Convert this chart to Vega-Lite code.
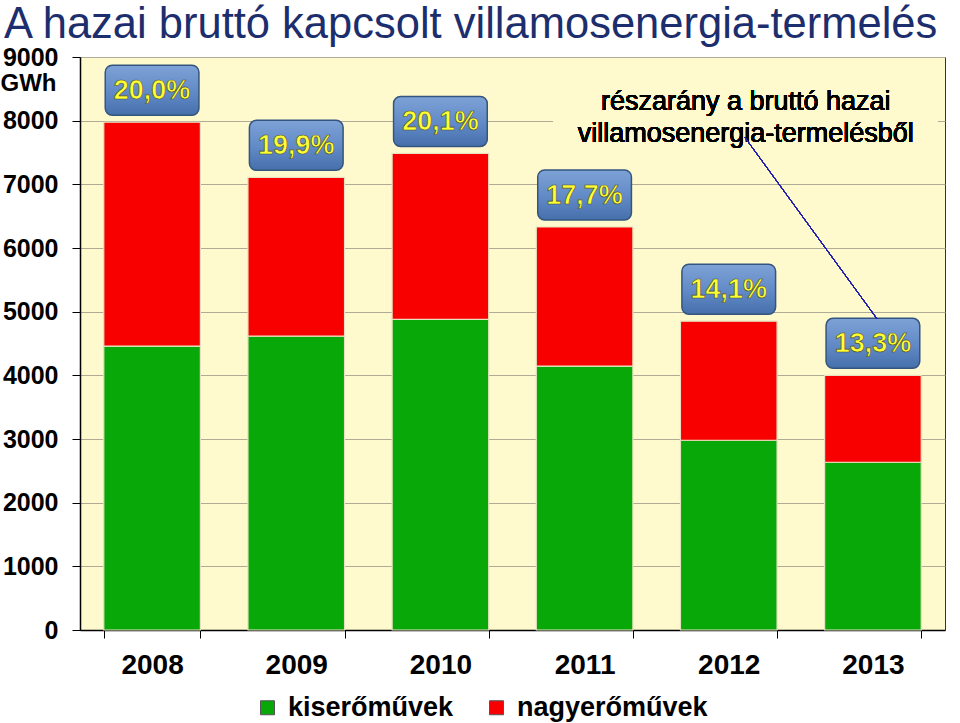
{
  "$schema": "https://vega.github.io/schema/vega-lite/v6.json",
  "width": 865,
  "height": 573,
  "autosize": "none",
  "padding": {"left": 80, "top": 57, "right": 15, "bottom": 93},
  "background": "white",
  "title": {
    "text": "A hazai bruttó kapcsolt villamosenergia-termelés",
    "anchor": "start",
    "frame": "group",
    "dx": -76,
    "offset": -2,
    "font": "Liberation Sans",
    "fontSize": 43.5,
    "fontWeight": "normal",
    "color": "#1C2E6E"
  },
  "config": {
    "view": {"fill": "#FFFACD", "stroke": "#333333", "strokeWidth": 1},
    "font": "Liberation Sans"
  },
  "data": {
    "values": [
      {"year": "2008", "type": "kiserőművek", "value": 4460, "pct": "20,0%"},
      {"year": "2008", "type": "nagyerőművek", "value": 3515, "pct": "20,0%"},
      {"year": "2009", "type": "kiserőművek", "value": 4615, "pct": "19,9%"},
      {"year": "2009", "type": "nagyerőművek", "value": 2495, "pct": "19,9%"},
      {"year": "2010", "type": "kiserőművek", "value": 4880, "pct": "20,1%"},
      {"year": "2010", "type": "nagyerőművek", "value": 2605, "pct": "20,1%"},
      {"year": "2011", "type": "kiserőművek", "value": 4145, "pct": "17,7%"},
      {"year": "2011", "type": "nagyerőművek", "value": 2185, "pct": "17,7%"},
      {"year": "2012", "type": "kiserőművek", "value": 2980, "pct": "14,1%"},
      {"year": "2012", "type": "nagyerőművek", "value": 1870, "pct": "14,1%"},
      {"year": "2013", "type": "kiserőművek", "value": 2635, "pct": "13,3%"},
      {"year": "2013", "type": "nagyerőművek", "value": 1365, "pct": "13,3%"}
    ]
  },
  "encoding": {
    "x": {
      "field": "year",
      "type": "nominal",
      "scale": {"paddingInner": 0.33, "paddingOuter": 0.165},
      "axis": {
        "title": null,
        "labelAngle": 0,
        "labelFontSize": 28,
        "labelFontWeight": "bold",
        "labelColor": "#000000",
        "labelPadding": 13,
        "tickBand": "extent",
        "tickSize": 8,
        "tickColor": "#000000",
        "domainColor": "#000000",
        "domainWidth": 1.5
      }
    }
  },
  "layer": [
    {
      "mark": {"type": "bar", "stroke": "#E6E2C0", "strokeWidth": 1.2},
      "encoding": {
        "y": {
          "field": "value",
          "type": "quantitative",
          "stack": "zero",
          "scale": {"domain": [0, 9000]},
          "axis": {
            "values": [0, 1000, 2000, 3000, 4000, 5000, 6000, 7000, 8000, 9000],
            "format": "d",
            "title": "GWh",
            "titleAngle": 0,
            "titleX": -52,
            "titleY": 26,
            "titleAlign": "center",
            "titleBaseline": "middle",
            "titleFontSize": 24,
            "titleFontWeight": "bold",
            "titleColor": "#000000",
            "labelFontSize": 25,
            "labelFontWeight": "bold",
            "labelColor": "#000000",
            "labelPadding": 14,
            "tickSize": 8,
            "tickColor": "#000000",
            "domainColor": "#000000",
            "domainWidth": 1.5,
            "grid": true,
            "gridColor": "#B0AB96",
            "gridWidth": 1
          }
        },
        "color": {
          "field": "type",
          "type": "nominal",
          "scale": {"domain": ["kiserőművek", "nagyerőművek"], "range": ["#08A808", "#F80000"]},
          "legend": {
            "title": null,
            "orient": "none",
            "legendX": 174,
            "legendY": 637,
            "direction": "horizontal",
            "columns": 2,
            "columnPadding": 29,
            "symbolType": "square",
            "symbolSize": 196,
            "symbolStrokeColor": "#555555",
            "symbolStrokeWidth": 1,
            "labelFontSize": 27,
            "labelFontWeight": "bold",
            "labelColor": "#000000",
            "labelOffset": 7,
            "labelLimit": 400
          }
        },
        "order": {"field": "type", "sort": "ascending"}
      }
    },
    {
      "transform": [{"aggregate": [{"op": "sum", "field": "value", "as": "total"}], "groupby": ["year", "pct"]}],
      "mark": {
        "type": "rect",
        "height": 50,
        "width": {"band": 0.97},
        "yOffset": -32,
        "cornerRadius": 7,
        "stroke": "#34557F",
        "strokeWidth": 1.5,
        "fill": {
          "gradient": "linear",
          "x1": 0, "y1": 0, "x2": 0, "y2": 1,
          "stops": [
            {"offset": 0, "color": "#7EA2D6"},
            {"offset": 0.55, "color": "#6089C6"},
            {"offset": 1, "color": "#4670AA"}
          ]
        }
      },
      "encoding": {
        "y": {"field": "total", "type": "quantitative"}
      }
    },
    {
      "transform": [{"aggregate": [{"op": "sum", "field": "value", "as": "total"}], "groupby": ["year", "pct"]}],
      "mark": {
        "type": "text",
        "yOffset": -31,
        "baseline": "middle",
        "align": "center",
        "fontSize": 27,
        "fontWeight": "bold",
        "fill": "#FFFF33",
        "stroke": "#4A4A2A",
        "strokeWidth": 0.6
      },
      "encoding": {
        "y": {"field": "total", "type": "quantitative"},
        "text": {"field": "pct", "type": "nominal"}
      }
    },
    {
      "mark": {"type": "rect", "width": 384, "height": 64, "xOffset": 17, "fill": "#FFFACD"},
      "encoding": {
        "x": {"datum": "2012"},
        "y": {"datum": 8300}
      }
    },
    {
      "mark": {
        "type": "text",
        "text": ["részarány a bruttó hazai", "villamosenergia-termelésből"],
        "xOffset": 17,
        "align": "center",
        "baseline": "middle",
        "lineHeight": 32,
        "fontSize": 27,
        "fontWeight": "normal",
        "fill": "#000000"
      },
      "encoding": {
        "x": {"datum": "2012"},
        "y": {"datum": 8300}
      }
    },
    {
      "mark": {"type": "rule", "color": "#2020B0", "strokeWidth": 1, "xOffset": 16, "x2Offset": 4},
      "encoding": {
        "x": {"datum": "2012"},
        "x2": {"datum": "2013"},
        "y": {"datum": 7740},
        "y2": {"datum": 4890}
      }
    }
  ]
}
